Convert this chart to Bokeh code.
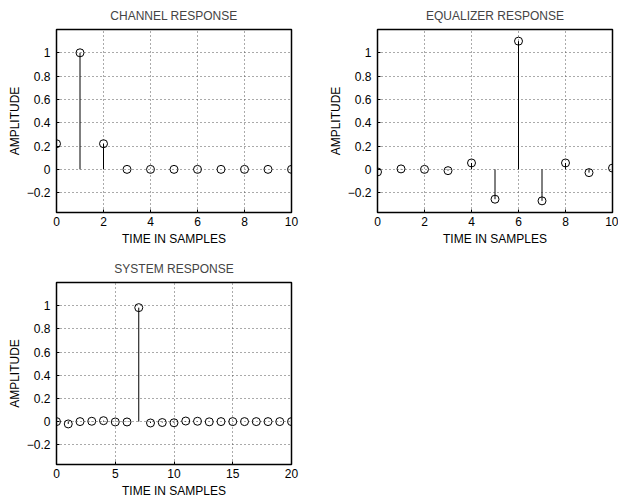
from bokeh.plotting import figure
from bokeh.layouts import column, row
from bokeh.models import FixedTicker, Range1d
from bokeh.embed import file_html
from bokeh.resources import INLINE

# ---- data ----
channel_n = list(range(0, 11))
channel_h = [0.22, 1.0, 0.22, 0.0, 0.0, 0.0, 0.0, 0.0, 0.0, 0.0, 0.0]

equalizer_n = list(range(0, 11))
equalizer_h = [-0.022, 0.004, 0.0, -0.011, 0.055, -0.256, 1.1, -0.27, 0.055, -0.028, 0.011]

system_n = list(range(0, 21))
system_h = [0.0, -0.02, 0.0, 0.003, 0.008, -0.003, -0.003, 0.983, -0.012, -0.008,
            -0.01, 0.005, 0.003, -0.002, 0.0, 0.0, 0.0, 0.0, 0.0, 0.0, 0.0]

y_ticks = [-0.2, 0, 0.2, 0.4, 0.6, 0.8, 1]
y_tick_labels = ["\u22120.2", "0", "0.2", "0.4", "0.6", "0.8", "1"]
x_ticks_10 = [0, 2, 4, 6, 8, 10]
x_ticks_20 = [0, 5, 10, 15, 20]

titles = ["CHANNEL RESPONSE", "EQUALIZER RESPONSE", "SYSTEM RESPONSE"]
x_label = "TIME IN SAMPLES"
y_label = "AMPLITUDE"

FONT = "Liberation Sans"
FS = "12px"


def stem_fig(n, h, title, xticks, xmax, width, height, left, right, top, bottom):
    p = figure(width=width, height=height, output_backend="svg", toolbar_location=None,
               x_range=Range1d(0, xmax), y_range=Range1d(-0.37, 1.2),
               min_border_left=left, min_border_right=right,
               min_border_top=top, min_border_bottom=bottom)
    p.title.text = title
    p.title.align = "center"
    p.title.text_font = FONT
    p.title.text_font_size = FS
    p.title.text_font_style = "normal"
    p.title.standoff = 13
    p.outline_line_color = "black"
    p.outline_line_width = 1.5
    p.outline_line_alpha = 1
    p.background_fill_color = "white"
    p.border_fill_color = "white"

    p.xaxis.ticker = FixedTicker(ticks=xticks)
    p.yaxis.ticker = FixedTicker(ticks=y_ticks)
    p.yaxis.major_label_overrides = {t: l for t, l in zip(y_ticks, y_tick_labels)}
    for ax in (p.xaxis, p.yaxis):
        ax.axis_line_color = None
        ax.major_tick_in = 3
        ax.major_tick_out = 0
        ax.minor_tick_line_color = None
        ax.major_tick_line_color = "black"
        ax.major_label_text_font = FONT
        ax.major_label_text_font_size = FS
        ax.major_label_text_color = "black"
        ax.axis_label_text_font = FONT
        ax.axis_label_text_font_size = FS
        ax.axis_label_text_font_style = "normal"
        ax.axis_label_text_color = "black"
    p.xaxis.axis_label = x_label
    p.yaxis.axis_label = y_label
    p.xaxis.major_label_standoff = 4
    p.xaxis.axis_label_standoff = 3
    p.yaxis.major_label_standoff = 6
    p.yaxis.axis_label_standoff = 2

    for g in (p.xgrid, p.ygrid):
        g.grid_line_color = "#555555"
        g.grid_line_dash = "1 3"
        g.grid_line_width = 1
    p.xgrid.ticker = FixedTicker(ticks=xticks)
    p.ygrid.ticker = FixedTicker(ticks=y_ticks)

    p.segment(x0=n, y0=[0] * len(n), x1=n, y1=h, line_color="black", line_width=1)
    p.scatter(x=n, y=h, marker="circle", size=8, fill_color=None,
              line_color="black", line_width=1)
    return p


p1 = stem_fig(channel_n, channel_h, titles[0], x_ticks_10, 10, 309, 250, 56, 18, 29, 38)
p2 = stem_fig(equalizer_n, equalizer_h, titles[1], x_ticks_10, 10, 309, 250, 68, 6, 29, 38)
p3 = stem_fig(system_n, system_h, titles[2], x_ticks_20, 20, 309, 251, 56, 18, 32, 37)

layout = column(row(p1, p2), row(p3))
open("out.html", "w").write(file_html(layout, INLINE))
